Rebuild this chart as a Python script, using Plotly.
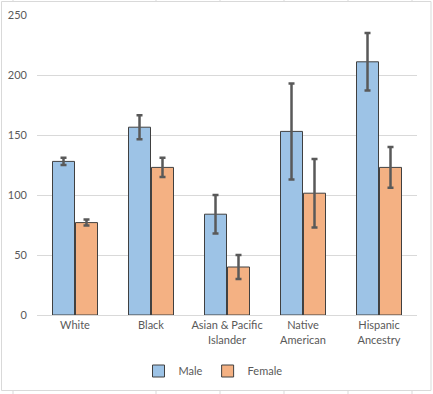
import plotly.graph_objects as go

categories = ["White", "Black", "Asian & Pacific<br>Islander", "Native<br>American", "Hispanic<br>Ancestry"]
male_values = [128, 156.5, 84, 153, 211]
male_errors = [3, 10, 16, 40, 24]
female_values = [77, 123, 40, 101.5, 123]
female_errors = [2.5, 8, 10, 28.5, 17]
y_ticks = [0, 50, 100, 150, 200, 250]

W, H = 433, 394
ml, mr, mt, mb = 37, 16, 15, 79
pw, ph = W - ml - mr, H - mt - mb

def px_x(x):
    return (x - ml) / pw

def px_y(y):
    return (H - mb - y) / ph

font_col = "#595959"
edge = "#404040"

fig = go.Figure()
fig.add_trace(go.Bar(
    name="Male", x=categories, y=male_values,
    marker=dict(color="#9DC3E6", line=dict(color=edge, width=1)),
    error_y=dict(type="data", array=male_errors, color="#595959", thickness=2.5, width=3),
))
fig.add_trace(go.Bar(
    name="Female", x=categories, y=female_values,
    marker=dict(color="#F4B183", line=dict(color=edge, width=1)),
    error_y=dict(type="data", array=female_errors, color="#595959", thickness=2.5, width=3),
))

shapes = [dict(type="rect", xref="paper", yref="paper",
               x0=px_x(1.5), x1=px_x(431), y0=px_y(1.5), y1=px_y(390.5),
               line=dict(color="#D9D9D9", width=1), layer="below")]
for xx in [13, 156, 220, 284, 348, 412]:
    shapes.append(dict(type="line", xref="paper", yref="paper",
                       x0=px_x(xx), x1=px_x(xx), y0=px_y(391), y1=px_y(394),
                       line=dict(color="#D9D9D9", width=1)))
    shapes.append(dict(type="line", xref="paper", yref="paper",
                       x0=px_x(xx), x1=px_x(xx), y0=px_y(0), y1=px_y(1.5),
                       line=dict(color="#D9D9D9", width=1)))

fig.update_layout(
    width=W, height=H,
    margin=dict(l=ml, r=mr, t=mt, b=mb, autoexpand=False),
    paper_bgcolor="white", plot_bgcolor="white",
    barmode="group", bargap=0.395, bargroupgap=0.043,
    font=dict(family="Lato, Calibri, sans-serif", size=11, color=font_col),
    showlegend=True,
    legend=dict(orientation="h", xref="paper", yref="paper",
                x=px_x(213), xanchor="center", y=px_y(371), yanchor="middle",
                font=dict(size=11, color=font_col), itemwidth=30,
                entrywidth=0, tracegroupgap=0),
    shapes=shapes,
)
fig.update_xaxes(showline=True, linecolor="#D9D9D9", linewidth=1, automargin=False,
                 ticks="", showgrid=False, tickfont=dict(size=11, color=font_col))
fig.update_yaxes(range=[0, 250], tickvals=y_ticks, showgrid=True, gridcolor="#D9D9D9",
                 gridwidth=1, zeroline=False, showline=False, ticks="", automargin=False,
                 ticklabelstandoff=9, tickfont=dict(size=11, color=font_col))

fig.write_html("out.html", config={"displayModeBar": False},
               post_script="document.body.style.margin='0';document.body.style.overflow='hidden';")
